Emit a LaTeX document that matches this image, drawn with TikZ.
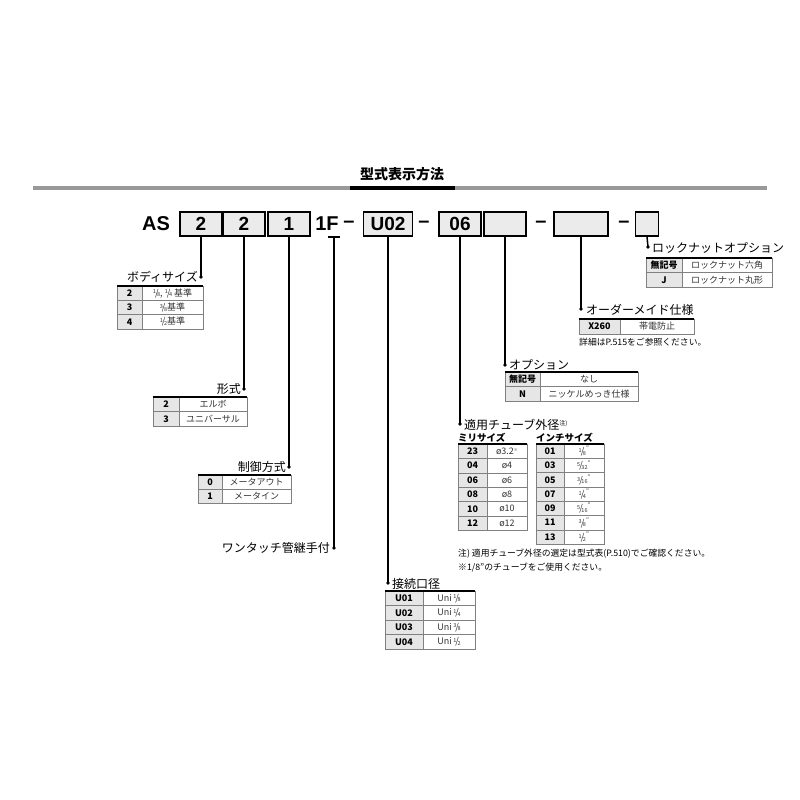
\documentclass[tikz,border=0pt]{standalone}
\usepackage{fontspec}
\setmainfont{Noto Sans CJK JP}
\newfontfamily\lat{Liberation Sans}
\definecolor{cellgray}{HTML}{E6E6E6}
\definecolor{gridgray}{HTML}{808080}
\definecolor{boxgray}{HTML}{EBEBEB}
\newcommand\fr[2]{\raisebox{.45ex}{\fontsize{5.5}{5.5}\selectfont#1}\kern-.1em/\kern-.15em\raisebox{-.15ex}{\fontsize{5.5}{5.5}\selectfont#2}}
\newcommand\tbl[6]{%
 \begin{scope}[shift={(#1,#2)}]
 \foreach \a/\b [count=\i] in {#6}{
   \path[fill=cellgray] (0,{(\i-1)*#5}) rectangle (#3,{\i*#5});
   \draw[gridgray,line width=.6] (0,{(\i-1)*#5}) rectangle (#3,{\i*#5}) (#3,{(\i-1)*#5}) rectangle (#4,{\i*#5});
   \node[font=\bfseries\fontsize{9}{9}\selectfont] at ({#3/2},{(\i-.5)*#5}) {\a};
   \node[font=\fontsize{9}{9}\selectfont,text=black!80] at ({(#3+#4)/2},{(\i-.5)*#5}) {\b};
 }
 \draw[line width=1.8] (0,0)--(#4,0);
 \end{scope}}
\tikzset{
 box/.style={draw,line width=1.3,fill=boxgray,minimum height=24,inner sep=0,font=\lat\bfseries\fontsize{19}{20}\selectfont},
 conn/.style={line width=1.5},
 lbl/.style={font=\fontsize{12}{12}\selectfont,inner sep=1},
 note/.style={font=\fontsize{8.8}{10}\selectfont,inner sep=0,anchor=base west},
 hdr/.style={font=\lat\bfseries\fontsize{20}{20}\selectfont,inner sep=0}
}
\begin{document}
\begin{tikzpicture}[x=1pt,y=-1pt]
\useasboundingbox (0,0) rectangle (800,800);
\node[font=\bfseries\fontsize{14}{14}\selectfont] (title) at (402,174) {型式表示方法};
\draw[line width=3.5,black!40] (33,188)--(767,188);
\draw[line width=3.5] (350,188)--(455,188);
% header
\node[hdr] (as) at (156,224) {AS};
\node[box,minimum width=42] (b1) at (201,224) {2};
\node[box,minimum width=42] (b2) at (244,224) {2};
\node[box,minimum width=42] (b3) at (289,224) {1};
\node[hdr] (f1) at (327,224) {1F};
\node[hdr] (d1) at (349,224) {–};
\node[box,minimum width=49] (b4) at (388,224) {U02};
\node[hdr] (d2) at (424,224) {–};
\node[box,minimum width=42] (b5) at (460,224) {06};
\node[box,minimum width=42] (b6) at (505,224) {};
\node[hdr] (d3) at (541,224) {–};
\node[box,minimum width=54] (b7) at (581,224) {};
\node[hdr] (d4) at (624,224) {–};
\node[box,minimum width=23] (b8) at (647,224) {};
% connectors to the left
\coordinate (c1) at (201,277);
\draw[conn] (b1.south)--(c1); \fill (c1) circle (1.8);
\node[lbl,anchor=base east] (l1) at (199,281) {ボディサイズ};
\tbl{117}{286}{25}{86}{14.3}{2/{\fr18, \fr14 基準},3/{\fr38基準},4/{\fr12基準}}
\coordinate (c2) at (244,389);
\draw[conn] (b2.south)--(c2); \fill (c2) circle (1.8);
\node[lbl,anchor=base east] (l2) at (242,393) {形式};
\tbl{153}{397}{26}{94}{14.5}{2/エルボ,3/ユニバーサル}
\coordinate (c3) at (289,467);
\draw[conn] (b3.south)--(c3); \fill (c3) circle (1.8);
\node[lbl,anchor=base east] (l3) at (287,471) {制御方式};
\tbl{198}{475}{24}{93}{14.2}{0/メータアウト,1/メータイン}
\coordinate (t1) at (328,237); \coordinate (t2) at (340,237);
\draw[conn] (t1)--(t2);
\coordinate (c4) at (334,548);
\draw[conn] (334,237)--(c4); \fill (c4) circle (1.8);
\node[lbl,anchor=base east] (l4) at (331,552) {ワンタッチ管継手付};
% connectors to the right
\coordinate (c5) at (388,583);
\draw[conn] (b4.south)--(c5); \fill (c5) circle (1.8);
\node[lbl,anchor=base west] (l5) at (391,588) {接続口径};
\tbl{385}{591}{38}{90}{14.5}{U01/Uni\,\fr18,U02/Uni\,\fr14,U03/Uni\,\fr38,U04/Uni\,\fr12}
\coordinate (c6) at (460,424);
\draw[conn] (b5.south)--(c6); \fill (c6) circle (1.8);
\node[lbl,anchor=base west] (l6) at (463,429) {適用チューブ外径\raisebox{.6ex}{\fontsize{6}{6}\selectfont 注)}};
\node[note,font=\bfseries\fontsize{9.5}{10}\selectfont] (m1) at (458,441) {ミリサイズ};
\node[note,font=\bfseries\fontsize{9.5}{10}\selectfont] (m2) at (536,441) {インチサイズ};
\tbl{458}{444}{29}{69}{14.4}{23/{ø3.2\raisebox{.5ex}{\fontsize{4}{4}\selectfont ※}},04/ø4,06/ø6,08/ø8,10/ø10,12/ø12}
\tbl{536}{444}{28}{68}{14.3}{01/\fr18\textsuperscript{"},03/\fr5{32}\textsuperscript{"},05/\fr3{16}\textsuperscript{"},07/\fr14\textsuperscript{"},09/\fr5{16}\textsuperscript{"},11/\fr38\textsuperscript{"},13/\fr12\textsuperscript{"}}
\node[note] (n1) at (458,556) {注) 適用チューブ外径の選定は型式表(P.510)でご確認ください。};
\node[note] (n2) at (458,570) {※1/8"のチューブをご使用ください。};
\coordinate (c7) at (505,365);
\draw[conn] (b6.south)--(c7); \fill (c7) circle (1.8);
\node[lbl,anchor=base west] (l7) at (508,369) {オプション};
\tbl{505}{372}{35}{133}{14.5}{無記号/なし,N/ニッケルめっき仕様}
\coordinate (c8) at (581,309);
\draw[conn] (b7.south)--(c8); \fill (c8) circle (1.8);
\node[lbl,anchor=base west] (l8) at (585,314) {オーダーメイド仕様};
\tbl{579}{319}{41}{115}{15}{X260/帯電防止}
\node[note] (n3) at (579,345) {詳細はP.515をご参照ください。};
\coordinate (c9) at (648,247);
\draw[conn] (b8.south)--(c9); \fill (c9) circle (1.8);
\node[lbl,anchor=base west] (l9) at (651,252) {ロックナットオプション};
\tbl{646}{258}{36}{126}{14.5}{無記号/ロックナット六角,J/ロックナット丸形}
\end{tikzpicture}
\end{document}
